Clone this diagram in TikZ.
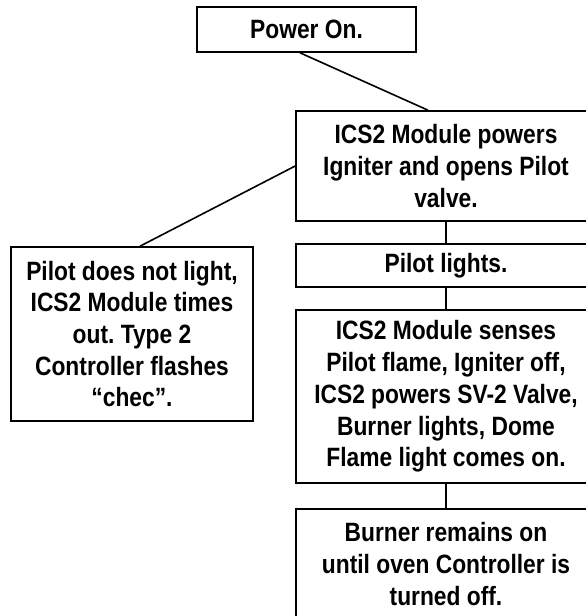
\documentclass[tikz,border=0pt]{standalone}
\usepackage{fontspec}
\setmainfont{Liberation Sans}[FakeStretch=0.86]
\begin{document}
\begin{tikzpicture}[x=1pt,y=1pt,
  box/.style={draw=black, line width=1.6pt, inner sep=0pt, align=center,
    font=\frenchspacing\bfseries\fontsize{26.5pt}{31.7pt}\selectfont},
  link/.style={draw=black, line width=1.6pt}]
\useasboundingbox (0,0) rectangle (586,-616);
\clip (0,0) rectangle (586,-616);
\node[box, minimum width=219pt, minimum height=45pt] (pow) at (306.5,-29.5) {Power On.};
\node[box, minimum width=300pt, minimum height=110pt] (ics) at (446,-166) {ICS2 Module powers\\Igniter and opens Pilot\\valve.};
\node[box, minimum width=300pt, minimum height=43pt] (pil) at (446,-265.5) {Pilot lights.};
\node[box, minimum width=300pt, minimum height=173pt] (sen) at (446,-396.5) {ICS2 Module senses\\Pilot flame, Igniter off,\\ICS2 powers SV-2 Valve,\\Burner lights, Dome\\Flame light comes on.};
\node[box, minimum width=300pt, minimum height=110pt] (bur) at (446,-564) {Burner remains on\\until oven Controller is\\turned off.};
\node[box, minimum width=242pt, minimum height=174pt] (fail) at (132,-334) {Pilot does not light,\\ICS2 Module times\\out. Type 2\\Controller flashes\\“chec”.};
\draw[link] ([xshift=-6.5pt]pow.south) -- ([xshift=-18pt]ics.north);
\draw[link] (ics.west) -- ([xshift=8pt]fail.north);
\draw[link] (ics.south) -- (pil.north);
\draw[link] (pil.south) -- (sen.north);
\draw[link] (sen.south) -- (bur.north);
\end{tikzpicture}
\end{document}
